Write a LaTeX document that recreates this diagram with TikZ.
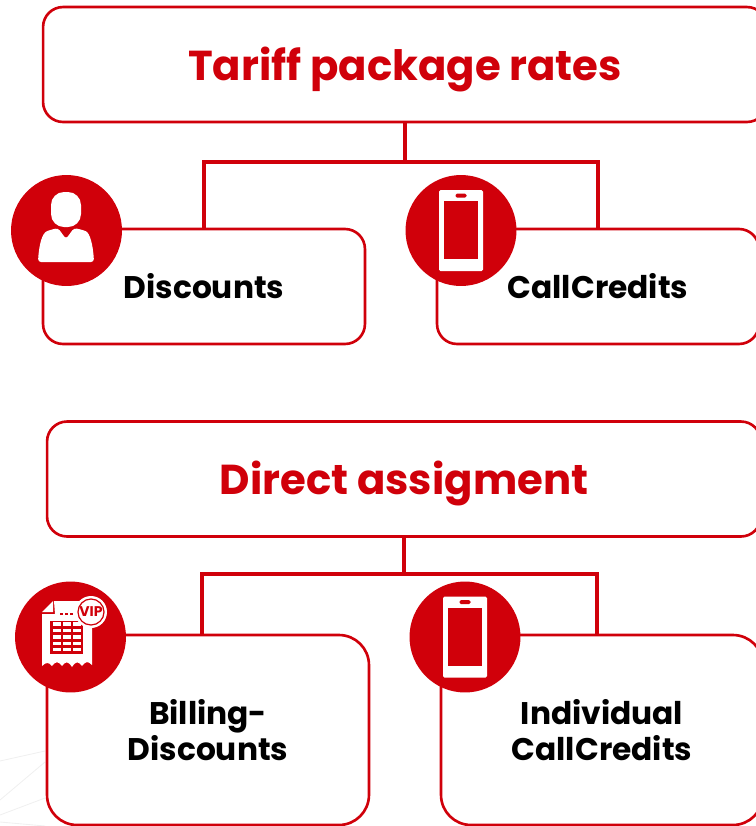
\documentclass[tikz,border=0pt]{standalone}
\usepackage{fontspec}
\setmainfont{Poppins}
\usepackage{xcolor}
\usetikzlibrary{positioning}
\definecolor{tariffred}{HTML}{D0000A}
\tikzset{
    headbox/.style={draw=tariffred, line width=1.5pt, rounded corners=0.4cm, minimum height=2.3cm, text=tariffred, text height=0.62cm, text depth=0pt, font=\bfseries\fontsize{23.8}{28}\selectfont},
    subbox/.style={draw=tariffred, line width=1.5pt, rounded corners=0.4cm, minimum width=6.44cm, minimum height=2.3cm, align=center, font=\bfseries\fontsize{17.8}{21}\selectfont},
    tallbox/.style={subbox, rounded corners=0.6cm, minimum height=3.8cm, text depth=-0.06cm},
    link/.style={draw=tariffred, line width=1.8pt},
    badge/.style={circle, fill=tariffred, minimum size=2.22cm, inner sep=0pt},
    icon/.style={fill=white, draw=none}
}
\begin{document}
\begin{tikzpicture}[x=0.02cm, y=-0.02cm]
    \useasboundingbox (0,0) rectangle (756,826);

    % faint lines in the corner
    \draw[black!6, line width=0.5pt] (0,761) -- (45,751);
    \draw[black!6, line width=0.5pt] (0,800) -- (45,762);
    \draw[black!6, line width=0.5pt] (0,815) -- (45,798);
    \draw[black!6, line width=0.5pt] (0,822) -- (45,826);

    % first group
    \node[headbox, minimum width=14.48cm] (rates) at (405,64.5) {Tariff package rates};
    \node[subbox] (discounts) at (204,286.5) {Discounts};
    \node[subbox] (credits) at (598,286.5) {CallCredits};
    \coordinate (ratesjoin) at (405,162);
    \draw[link] (rates.south) -- (ratesjoin);
    \draw[link] (discounts.north) |- (credits.north |- ratesjoin) -- (credits.north);

    % second group
    \node[headbox, minimum width=14.28cm] (direct) at (404,479) {Direct assigment};
    \node[tallbox] (billing) at (208,730) {Billing-\\Discounts};
    \node[tallbox] (individual) at (602,730) {Individual\\CallCredits};
    \coordinate (directjoin) at (404,574);
    \coordinate (billingdrop) at (202,635);
    \coordinate (individualdrop) at (597,635);
    \draw[link] (direct.south) -- (directjoin);
    \draw[link] (billingdrop) |- (directjoin) -| (individualdrop);

    % badges
    \node[badge] (person) at (66.5,230.5) {};
    \node[badge] (phone) at (461,230.5) {};
    \node[badge] (vip) at (70.5,637) {};
    \node[badge] (phonetwo) at (465,637) {};

    % person
    \fill[icon, rounded corners=0.26cm] (51,192) rectangle (81,227);
    \fill[icon, rounded corners=0.06cm] (38,262) .. controls (39,245) and (42,233) .. (50,230) -- (58,228) -- (66,239) -- (74,228) -- (83,230) .. controls (90,233) and (93,245) .. (94,262) -- cycle;

    % phones
    \foreach \px/\py in {461/230.5, 465/637} {
        \fill[icon, rounded corners=0.03cm] (\px-22,\py-40.5) rectangle (\px+22,\py+40.5);
        \fill[tariffred] (\px-17,\py-29.5) rectangle (\px+17,\py+28.5);
        \fill[tariffred, rounded corners=0.03cm] (\px-5.5,\py-37) rectangle (\px+5.5,\py-33);
    }

    % receipt
    \fill[icon] (54,601) -- (92,601) -- (92,665)
        .. controls (88,661) and (86,661) .. (82,666) .. controls (78,661) and (76,661) .. (72,667)
        .. controls (68,661) and (66,661) .. (62,666) .. controls (58,661) and (56,661) .. (52,666)
        .. controls (49,662) and (46,662) .. (42,666) -- (42,614) -- (55,614) -- cycle;
    \fill[icon] (42,612) -- (53,601) -- (53,612) -- cycle;
    \fill[tariffred] (50,621) rectangle (83,654);
    \foreach \cx in {52.5,62.5,73} {
        \foreach \cy in {624,630.5,637,643.5,649.5} {
            \fill[white] (\cx,\cy-1.8) rectangle (\cx+8,\cy+1.8);
        }
    }
    \foreach \cx in {60,65,70} {
        \fill[tariffred] (\cx,612.5) rectangle (\cx+3,615);
    }
    \fill[white] (91,612) circle (0.32cm);
    \draw[tariffred, line width=0.7pt] (91,612) circle (0.26cm);
    \node[text=tariffred, inner sep=0pt, font=\bfseries\fontsize{8}{9}\selectfont] (viplabel) at (91,612) {VIP};
\end{tikzpicture}
\end{document}
